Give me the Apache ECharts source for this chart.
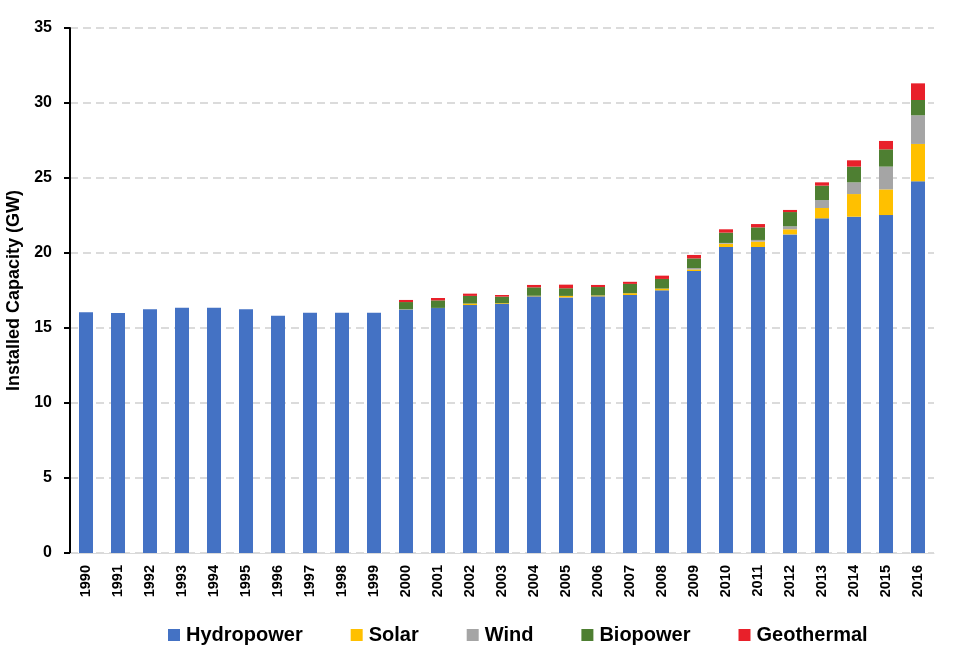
<!DOCTYPE html>
<html>
<head>
<meta charset="utf-8">
<script src="https://cdn.jsdelivr.net/npm/echarts@6/dist/echarts.min.js"></script>
<style>html,body{margin:0;padding:0;background:#fff;}#c{width:960px;height:660px;}</style>
</head>
<body>
<div id="c"></div>
<script>
var years = ['1990','1991','1992','1993','1994','1995','1996','1997','1998','1999','2000','2001','2002','2003','2004','2005','2006','2007','2008','2009','2010','2011','2012','2013','2014','2015','2016'];
var hydropower = [16.05,16.0,16.25,16.35,16.35,16.25,15.82,16.02,16.02,16.02,16.24,16.33,16.53,16.6,17.11,17.04,17.11,17.2,17.51,18.8,20.4,20.4,21.24,22.31,22.42,22.53,24.78];
var solar = [0,0,0,0,0,0,0,0,0,0,0.01,0.01,0.1,0.05,0.04,0.1,0.06,0.12,0.12,0.1,0.22,0.36,0.34,0.69,1.51,1.71,2.49];
var wind = [0,0,0,0,0,0,0,0,0,0,0,0,0,0,0,0,0,0,0,0.1,0.05,0.11,0.2,0.53,0.78,1.52,1.91];
var biopower = [0,0,0,0,0,0,0,0,0,0,0.48,0.5,0.51,0.44,0.56,0.51,0.56,0.62,0.64,0.64,0.69,0.84,0.95,0.96,1.05,1.15,1.02];
var geothermal = [0,0,0,0,0,0,0,0,0,0,0.14,0.16,0.15,0.11,0.16,0.24,0.14,0.14,0.22,0.23,0.22,0.22,0.14,0.22,0.42,0.56,1.11];

var FONT = '"Liberation Sans", Arial, sans-serif';
var chart = echarts.init(document.getElementById('c'));
function s(name, data, color) {
  return {name: name, type: 'bar', stack: 'total', data: data, barWidth: 14,
    itemStyle: {color: color}, emphasis: {disabled: true}};
}
chart.setOption({
  animation: false,
  textStyle: {fontFamily: FONT},
  grid: {left: 70, right: 26, top: 28, bottom: 107, containLabel: false, outerBoundsMode: 'none'},
  legend: {
    top: 620, left: 163, itemGap: 48, itemWidth: 12, itemHeight: 12,
    icon: 'rect',
    textStyle: {fontFamily: FONT, fontSize: 20, fontWeight: 'bold', color: '#000', padding: [0,0,0,1]},
    data: ['Hydropower','Solar','Wind','Biopower','Geothermal']
  },
  xAxis: {
    type: 'category', data: years,
    axisLine: {lineStyle: {color: '#d9d9d9', width: 1}},
    axisTick: {show: false},
    axisLabel: {rotate: 90, fontFamily: FONT, fontSize: 14.5, fontWeight: 'bold', color: '#000', margin: 12, interval: 0}
  },
  yAxis: {
    type: 'value', min: 0, max: 35, interval: 5,
    name: 'Installed Capacity (GW)', nameLocation: 'middle', nameGap: 44,
    nameTextStyle: {fontFamily: FONT, fontSize: 18, fontWeight: 'bold', color: '#000'},
    axisLine: {show: true, lineStyle: {color: '#000', width: 2}},
    axisTick: {show: true, length: 6, lineStyle: {color: '#000', width: 2}},
    axisLabel: {fontFamily: FONT, fontSize: 16, fontWeight: 'bold', color: '#000', margin: 18},
    splitLine: {lineStyle: {color: '#d0d0d0', type: [8, 5], width: 1.5}}
  },
  series: [
    s('Hydropower', hydropower, '#4472C4'),
    s('Solar', solar, '#FFC000'),
    s('Wind', wind, '#A5A5A5'),
    s('Biopower', biopower, '#4E7F32'),
    s('Geothermal', geothermal, '#E8202A')
  ]
});
</script>
</body>
</html>
